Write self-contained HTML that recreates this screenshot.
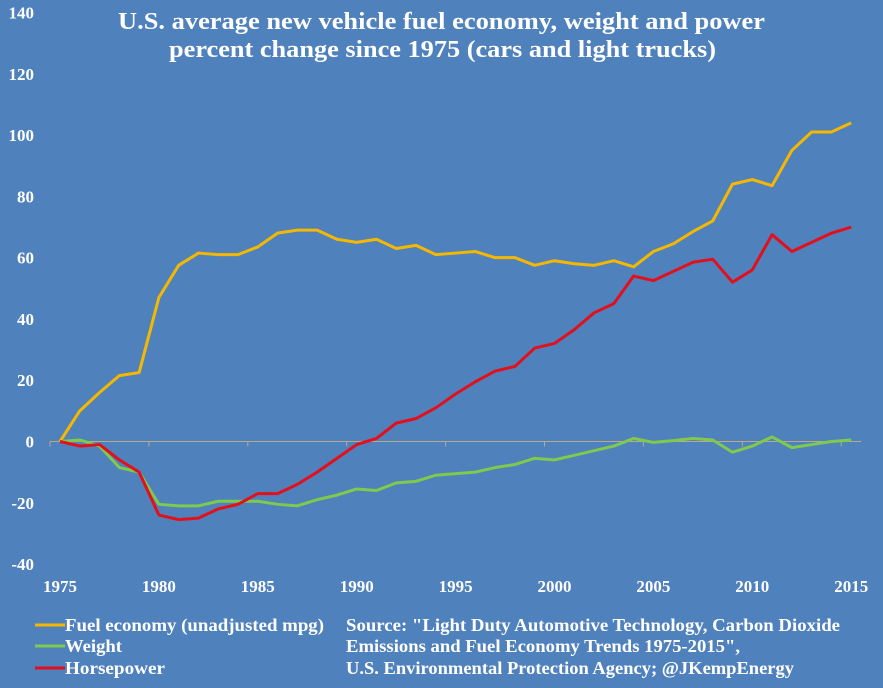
<!DOCTYPE html>
<html><head><meta charset="utf-8"><style>
body{margin:0;background:#4f81bd;}
svg{display:block;font-family:"Liberation Serif",serif;}
</style></head><body>
<svg id="chart" width="883" height="688" xmlns="http://www.w3.org/2000/svg">
<rect width="883" height="688" fill="#4f81bd"/>
<text x="118" y="29" font-size="24" font-weight="bold" fill="#fff" textLength="647" lengthAdjust="spacingAndGlyphs">U.S. average new vehicle fuel economy, weight and power</text>
<text x="169" y="57" font-size="24" font-weight="bold" fill="#fff" textLength="547" lengthAdjust="spacingAndGlyphs">percent change since 1975 (cars and light trucks)</text>
<g id="yticks"></g><g id="xticks"></g><g id="series"></g>
<g font-size="18" font-weight="bold" fill="#fff">
<line x1="35" y1="625" x2="65" y2="625" stroke="#f5b800" stroke-width="3"/>
<text x="65" y="631" textLength="259" lengthAdjust="spacingAndGlyphs">Fuel economy (unadjusted mpg)</text>
<line x1="35" y1="646" x2="65" y2="646" stroke="#7fc94c" stroke-width="3"/>
<text x="65" y="652" textLength="57" lengthAdjust="spacingAndGlyphs">Weight</text>
<line x1="35" y1="668" x2="65" y2="668" stroke="#e3101c" stroke-width="3"/>
<text x="65" y="674" textLength="100" lengthAdjust="spacingAndGlyphs">Horsepower</text>
</g>
<g font-size="18" font-weight="bold" fill="#fff">
<text x="346" y="631" textLength="494" lengthAdjust="spacingAndGlyphs">Source: "Light Duty Automotive Technology, Carbon Dioxide</text>
<text x="346" y="652" textLength="394" lengthAdjust="spacingAndGlyphs">Emissions and Fuel Economy Trends 1975-2015",</text>
<text x="346" y="674" textLength="448" lengthAdjust="spacingAndGlyphs">U.S. Environmental Protection Agency; @JKempEnergy</text>
</g>
</svg>
<script>
const years=[];for(let y=1975;y<=2015;y++)years.push(y);
const fuel=[0,10,16,21.5,22.5,47,57.5,61.5,61,61,63.5,68,69,69,66,65,66,63,64,61,61.5,62,60,60,57.5,59,58,57.5,59,57,62,64.5,68.5,72,84,85.5,83.5,95,101,101,104];
const weight=[0,0.5,-1.5,-8.5,-10,-20.5,-21,-21,-19.5,-19.5,-19.5,-20.5,-21,-19,-17.5,-15.5,-16,-13.5,-13,-11,-10.5,-10,-8.5,-7.5,-5.5,-6,-4.5,-3,-1.5,1,-0.3,0.3,1,0.5,-3.5,-1.5,1.5,-2,-1,0,0.5];
const horsepower=[0,-1.5,-1,-6,-10,-24,-25.5,-25,-22,-20.5,-17,-17,-14,-10,-5.5,-1,1,6,7.5,11,15.5,19.5,23,24.5,30.5,32,36.5,42,45,54,52.5,55.5,58.5,59.5,52,56,67.5,62,65,68,70];
const yTicks=[140,120,100,80,60,40,20,0,-20,-40];
const xTicks=[1975,1980,1985,1990,1995,2000,2005,2010,2015];
const NS="http://www.w3.org/2000/svg";
const X=y=>60+(y-1975)*19.78;
const Y=v=>441.5-v*3.064;
function mk(t,a,p){const e=document.createElementNS(NS,t);for(const k in a)e.setAttribute(k,a[k]);p.appendChild(e);return e;}
const yg=document.getElementById('yticks');
yTicks.forEach(v=>{const t=mk('text',{x:34,y:Y(v)+6,'font-size':17,'font-weight':'bold',fill:'#fff','text-anchor':'end'},yg);t.textContent=v;

});
const ax=mk('line',{x1:X(1975)-10,x2:X(2015)+10,y1:Y(0),y2:Y(0),stroke:'#b8a98a','stroke-width':1},yg);


const xg=document.getElementById('xticks');
xTicks.forEach(v=>{const t=mk('text',{x:X(v),y:592,'font-size':17,'font-weight':'bold',fill:'#fff','text-anchor':'middle'},xg);t.textContent=v;


const tk=mk('line',{x1:X(v)-10,x2:X(v)-10,y1:Y(0),y2:Y(0)+5,stroke:'#b8a98a'},xg);

});
const sg=document.getElementById('series');
[[fuel,'#f5b800','fuel-economy-line'],[weight,'#7fc94c','weight-line'],[horsepower,'#e3101c','horsepower-line']].forEach(([d,c,n])=>{
const p=mk('polyline',{points:d.map((v,i)=>X(years[i])+','+Y(v)).join(' '),fill:'none',stroke:c,'stroke-width':3,'stroke-linejoin':'round'},sg);

});
</script>
</body></html>
